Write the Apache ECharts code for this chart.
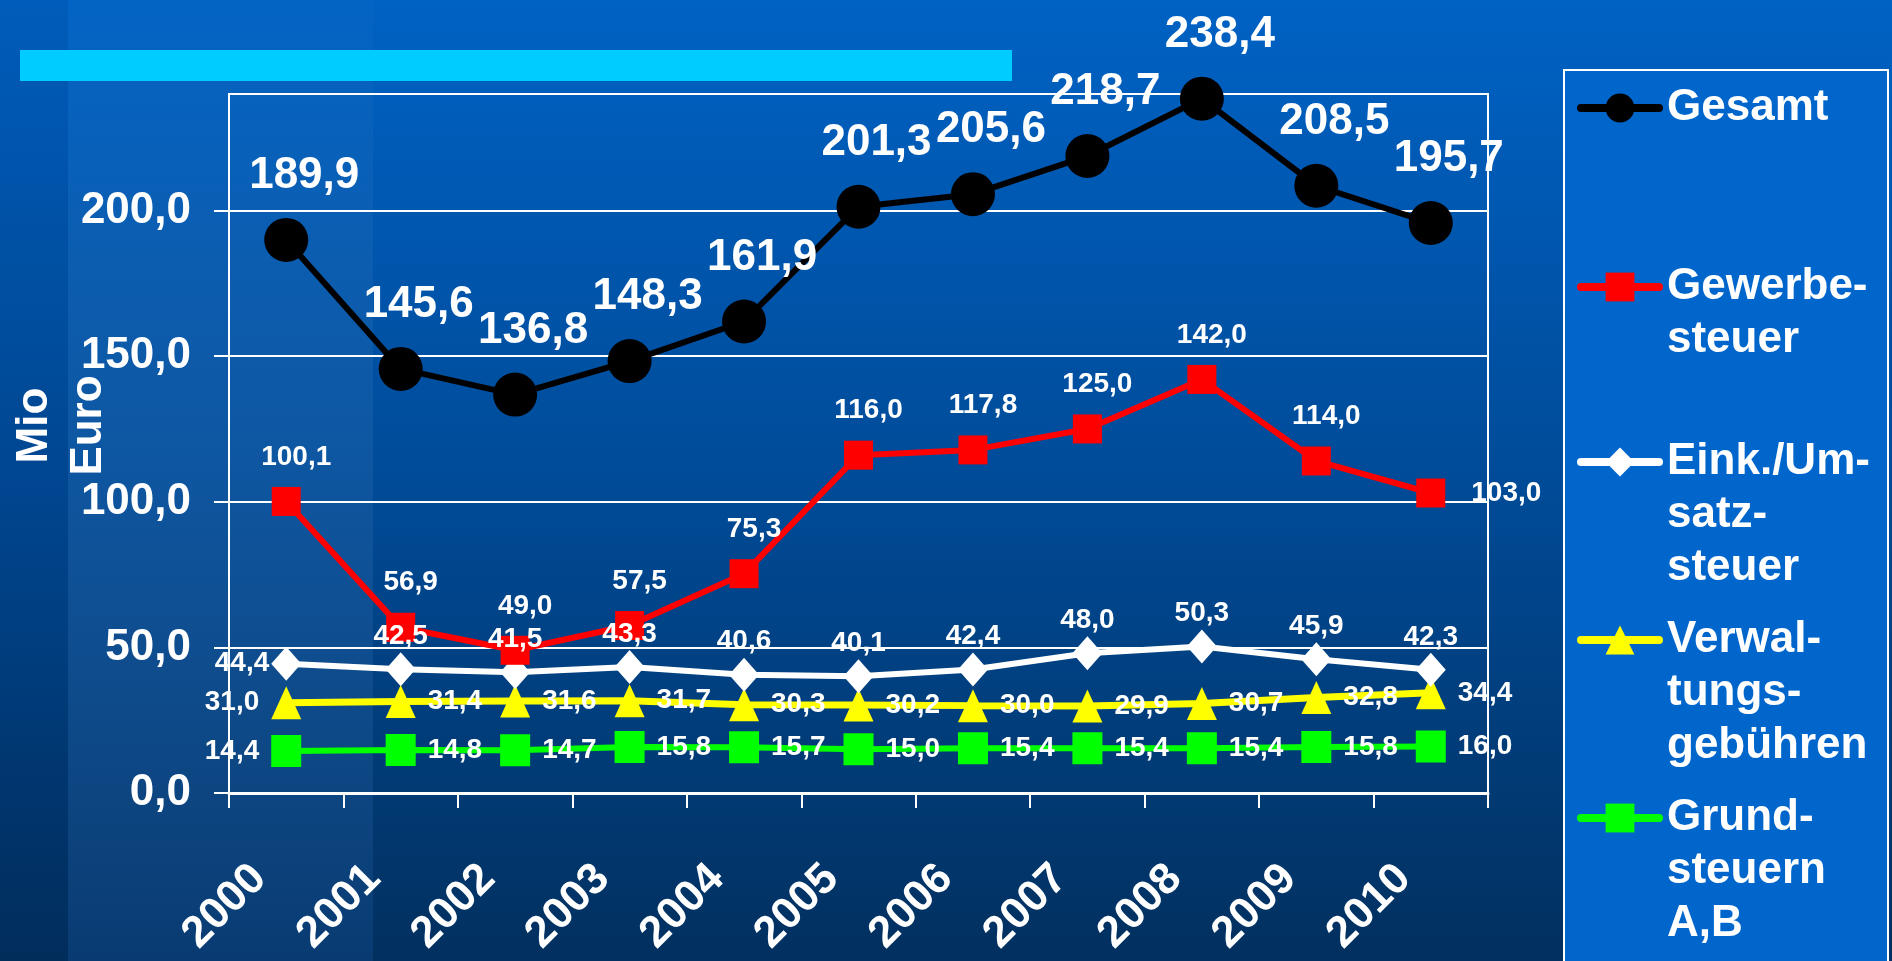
<!DOCTYPE html>
<html>
<head>
<meta charset="utf-8">
<script src="https://cdn.jsdelivr.net/npm/echarts@6/dist/echarts.min.js"></script>
<style>
html,body{margin:0;padding:0;background:#003366;}
#chart01{width:1892px;height:961px;}
</style>
</head>
<body>
<div id="chart01"></div>
<script>
var years = ['2000','2001','2002','2003','2004','2005','2006','2007','2008','2009','2010'];
var gesamt = [189.9, 145.6, 136.8, 148.3, 161.9, 201.3, 205.6, 218.7, 238.4, 208.5, 195.7];
var gewerbe = [100.1, 56.9, 49.0, 57.5, 75.3, 116.0, 117.8, 125.0, 142.0, 114.0, 103.0];
var einkUmsatz = [44.4, 42.5, 41.5, 43.3, 40.6, 40.1, 42.4, 48.0, 50.3, 45.9, 42.3];
var verwaltung = [31.0, 31.4, 31.6, 31.7, 30.3, 30.2, 30.0, 29.9, 30.7, 32.8, 34.4];
var grund = [14.4, 14.8, 14.7, 15.8, 15.7, 15.0, 15.4, 15.4, 15.4, 15.8, 16.0];
var names = ['Gesamt', 'Gewerbe-\nsteuer', 'Eink./Um-\nsatz-\nsteuer', 'Verwal-\ntungs-\ngebühren', 'Grund-\nsteuern\nA,B'];
var yTicks = [0, 50, 100, 150, 200];

var font = '"Liberation Sans", Arial, sans-serif';

function fmt(v) {
  return v.toFixed(1).replace('.', ',');
}

// first / last point labels sit beside the marker instead of the default
function points(values, firstPos, lastPos) {
  return values.map(function (v, i) {
    var d = {value: v};
    if (i === 0 && firstPos) d.label = {position: firstPos};
    if (i === values.length - 1 && lastPos) d.label = {position: lastPos};
    return d;
  });
}

function lbl(pos, size, dist, off) {
  return {
    show: true,
    position: pos,
    distance: dist,
    offset: off || [0, 0],
    color: '#fff',
    fontSize: size,
    fontWeight: 'bold',
    fontFamily: font,
    formatter: function (p) { return fmt(p.value); }
  };
}

// legend: one block per series, symbol level with the first text line
var legendLine = 53;
var legendFirstLine = [108, 287, 462, 640, 818];
var legendColors = ['#000000', '#ff0000', '#ffffff', '#ffff00', '#00ff00'];
var legends = names.map(function (n, i) {
  var lines = n.split('\n').length;
  var total = 2 * lines - 1;
  return {
    orient: 'vertical',
    left: 1577,
    top: legendFirstLine[i] - total * legendLine / 2,
    padding: 0,
    itemWidth: 78,
    itemHeight: 36,
    selectedMode: false,
    data: [n],
    lineStyle: {width: 8, cap: 'round', color: legendColors[i]},
    formatter: function (name) {
      return new Array(lines).join('\n') + name;
    },
    textStyle: {
      color: '#fff',
      fontSize: 44,
      fontWeight: 'bold',
      fontFamily: font,
      lineHeight: legendLine,
      padding: [0, 0, 0, 3]
    }
  };
});

var chart01 = echarts.init(document.getElementById('chart01'));

var option_c01 = {
  backgroundColor: new echarts.graphic.LinearGradient(0, 0, 0, 1, [
    {offset: 0, color: '#0062c4'},
    {offset: 0.5, color: '#004b98'},
    {offset: 1, color: '#02305f'}
  ]),
  animation: false,
  graphic: [
    {
      type: 'rect', left: 0, top: 0, z: -10,
      shape: {width: 68, height: 961},
      style: {fill: 'rgba(0,0,40,0.06)'}
    },
    {
      type: 'rect', left: 68, top: 0, z: -10,
      shape: {width: 305, height: 961},
      style: {
        fill: new echarts.graphic.LinearGradient(0, 0, 0, 1, [
          {offset: 0, color: 'rgba(255,255,255,0.01)'},
          {offset: 1, color: 'rgba(40,110,200,0.18)'}
        ])
      }
    },
    {
      type: 'rect', left: 20, top: 50, z: -5,
      shape: {width: 992, height: 31},
      style: {fill: '#00ccff'}
    },
    {
      type: 'rect', left: 1563, top: 69, z: -5,
      shape: {width: 324, height: 920},
      style: {fill: '#0066cc', stroke: '#ffffff', lineWidth: 2}
    }
  ],
  legend: legends,
  grid: {
    left: 229,
    right: 404,
    top: 94,
    bottom: 168,
    outerBoundsMode: 'none',
    containLabel: false,
    show: true,
    borderColor: '#ffffff',
    borderWidth: 2,
    backgroundColor: 'transparent'
  },
  xAxis: {
    type: 'category',
    data: years,
    boundaryGap: true,
    axisLine: {lineStyle: {color: '#fff', width: 3}},
    axisTick: {show: true, length: 15, lineStyle: {color: '#fff', width: 2}},
    axisLabel: {
      interval: 0,
      rotate: 45,
      margin: 52,
      padding: [0, 38, 0, 0],
      color: '#fff',
      fontSize: 44,
      fontWeight: 'bold',
      fontFamily: font
    }
  },
  yAxis: {
    type: 'value',
    min: 0,
    max: 240,
    interval: 50,
    name: 'Mio\nEuro',
    nameLocation: 'middle',
    nameRotate: 90,
    nameGap: 113,
    nameMoveOverlap: false,
    nameTextStyle: {
      color: '#fff',
      fontSize: 44,
      fontWeight: 'bold',
      fontFamily: font,
      lineHeight: 54,
      padding: [0, 0, 0, 36]
    },
    axisLine: {show: true, lineStyle: {color: '#fff', width: 2}},
    axisTick: {show: true, length: 15, customValues: yTicks, lineStyle: {color: '#fff', width: 2}},
    axisLabel: {
      margin: 38,
      customValues: yTicks,
      color: '#fff',
      fontSize: 44,
      fontWeight: 'bold',
      fontFamily: font,
      formatter: function (v) { return v % 50 === 0 ? fmt(v) : ''; }
    },
    splitLine: {lineStyle: {color: '#fff', width: 2}}
  },
  series: [
    {
      name: names[4],
      type: 'line',
      data: points(grund, 'left'),
      symbol: 'rect',
      symbolSize: [30, 32],
      lineStyle: {color: '#00ff00', width: 6},
      itemStyle: {color: '#00ff00'},
      label: lbl('right', 28, 12)
    },
    {
      name: names[3],
      type: 'line',
      data: points(verwaltung, 'left'),
      symbol: 'triangle',
      symbolSize: [30, 33],
      lineStyle: {color: '#ffff00', width: 7},
      itemStyle: {color: '#ffff00'},
      label: lbl('right', 28, 12)
    },
    {
      name: names[2],
      type: 'line',
      data: points(einkUmsatz, 'left'),
      symbol: 'diamond',
      symbolSize: [30, 34],
      lineStyle: {color: '#ffffff', width: 6},
      itemStyle: {color: '#ffffff'},
      label: lbl('top', 28, 2)
    },
    {
      name: names[1],
      type: 'line',
      data: points(gewerbe, null, 'right'),
      symbol: 'rect',
      symbolSize: 29,
      lineStyle: {color: '#ff0000', width: 6},
      itemStyle: {color: '#ff0000'},
      label: lbl('top', 28, 16, [10, 0])
    },
    {
      name: names[0],
      type: 'line',
      data: gesamt,
      symbol: 'circle',
      symbolSize: 44,
      lineStyle: {color: '#000000', width: 6},
      itemStyle: {color: '#000000'},
      label: lbl('top', 44, 20, [18, 0])
    }
  ]
};

chart01.setOption(option_c01);
</script>
</body>
</html>
